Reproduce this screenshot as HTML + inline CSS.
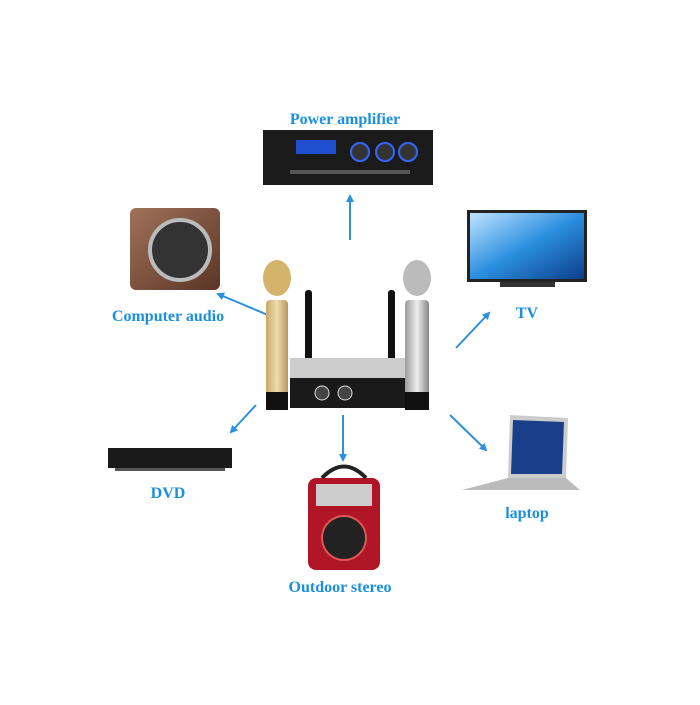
<!DOCTYPE html>
<html><head><meta charset="utf-8"><style>
html,body{margin:0;padding:0;background:#fff;}
.l{font-family:"Liberation Serif",serif;font-weight:bold;fill:#1a8fe0;font-size:16px;text-anchor:middle;}
</style></head><body>
<svg width="700" height="700" viewBox="0 0 700 700" xmlns="http://www.w3.org/2000/svg">
<defs>
<marker id="a" markerWidth="8" markerHeight="8" refX="6" refY="4" orient="auto" markerUnits="userSpaceOnUse">
<path d="M0,0 L8,4 L0,8 z" fill="#2a90e0"/></marker>
<linearGradient id="tv" x1="0" y1="0" x2="1" y2="1"><stop offset="0" stop-color="#bfe3ff"/><stop offset="0.5" stop-color="#2c8fe0"/><stop offset="1" stop-color="#0b3f8a"/></linearGradient>
<linearGradient id="gold" x1="0" x2="1"><stop offset="0" stop-color="#c9a86a"/><stop offset="0.5" stop-color="#f0dcae"/><stop offset="1" stop-color="#b8955a"/></linearGradient>
<linearGradient id="silv" x1="0" x2="1"><stop offset="0" stop-color="#999"/><stop offset="0.5" stop-color="#eee"/><stop offset="1" stop-color="#888"/></linearGradient>
<linearGradient id="wood" x1="0" y1="0" x2="1" y2="1"><stop offset="0" stop-color="#a0725a"/><stop offset="1" stop-color="#5a3526"/></linearGradient>
</defs>
<text x="345" y="124" class="l">Power amplifier</text>
<rect x="263" y="130" width="170" height="55" fill="#1b1b1b"/>
<rect x="296" y="140" width="40" height="14" fill="#2050d0"/>
<circle cx="360" cy="152" r="9" fill="#333" stroke="#36f" stroke-width="2"/>
<circle cx="385" cy="152" r="9" fill="#333" stroke="#36f" stroke-width="2"/>
<circle cx="408" cy="152" r="9" fill="#333" stroke="#36f" stroke-width="2"/>
<rect x="290" y="170" width="120" height="4" fill="#555"/>
<line x1="350" y1="240" x2="350" y2="196" stroke="#2a90e0" stroke-width="2" marker-end="url(#a)"/>
<rect x="130" y="208" width="90" height="82" rx="6" fill="url(#wood)"/>
<circle cx="180" cy="250" r="30" fill="#333" stroke="#bbb" stroke-width="4"/>
<text x="168" y="321" class="l">Computer audio</text>
<line x1="275" y1="318" x2="218" y2="294" stroke="#2a90e0" stroke-width="2" marker-end="url(#a)"/>
<rect x="467" y="210" width="120" height="72" fill="#222"/>
<rect x="470" y="213" width="114" height="66" fill="url(#tv)"/>
<rect x="500" y="282" width="55" height="5" fill="#333"/>
<text x="527" y="318" class="l">TV</text>
<line x1="456" y1="348" x2="489" y2="313" stroke="#2a90e0" stroke-width="2" marker-end="url(#a)"/>
<rect x="305" y="290" width="7" height="72" rx="3" fill="#111"/>
<rect x="388" y="290" width="7" height="72" rx="3" fill="#111"/>
<rect x="290" y="358" width="120" height="50" fill="#ccc"/>
<rect x="290" y="378" width="120" height="30" fill="#1a1a1a"/>
<circle cx="322" cy="393" r="7" fill="#444" stroke="#ddd"/>
<circle cx="345" cy="393" r="7" fill="#444" stroke="#ddd"/>
<rect x="266" y="300" width="22" height="110" rx="4" fill="url(#gold)"/>
<ellipse cx="277" cy="278" rx="14" ry="18" fill="#d4b46a"/>
<rect x="266" y="392" width="22" height="18" fill="#111"/>
<rect x="405" y="300" width="24" height="110" rx="4" fill="url(#silv)"/>
<ellipse cx="417" cy="278" rx="14" ry="18" fill="#bbb"/>
<rect x="405" y="392" width="24" height="18" fill="#111"/>
<line x1="256" y1="405" x2="231" y2="432" stroke="#2a90e0" stroke-width="2" marker-end="url(#a)"/>
<rect x="108" y="448" width="124" height="20" fill="#1a1a1a"/>
<rect x="115" y="468" width="110" height="3" fill="#555"/>
<text x="168" y="498" class="l">DVD</text>
<line x1="343" y1="415" x2="343" y2="460" stroke="#2a90e0" stroke-width="2" marker-end="url(#a)"/>
<rect x="308" y="478" width="72" height="92" rx="8" fill="#b01525"/>
<path d="M322,478 Q344,455 366,478" fill="none" stroke="#222" stroke-width="4"/>
<rect x="316" y="484" width="56" height="22" fill="#ccc"/>
<circle cx="344" cy="538" r="22" fill="#222" stroke="#d55" stroke-width="2"/>
<text x="340" y="592" class="l">Outdoor stereo</text>
<line x1="450" y1="415" x2="486" y2="450" stroke="#2a90e0" stroke-width="2" marker-end="url(#a)"/>
<polygon points="510,415 568,418 566,478 508,478" fill="#ccc"/>
<polygon points="513,420 564,422 562,474 511,474" fill="#1a3f8a"/>
<polygon points="508,478 566,478 580,490 462,490" fill="#bbb"/>
<text x="527" y="518" class="l">laptop</text>
</svg>
</body></html>
